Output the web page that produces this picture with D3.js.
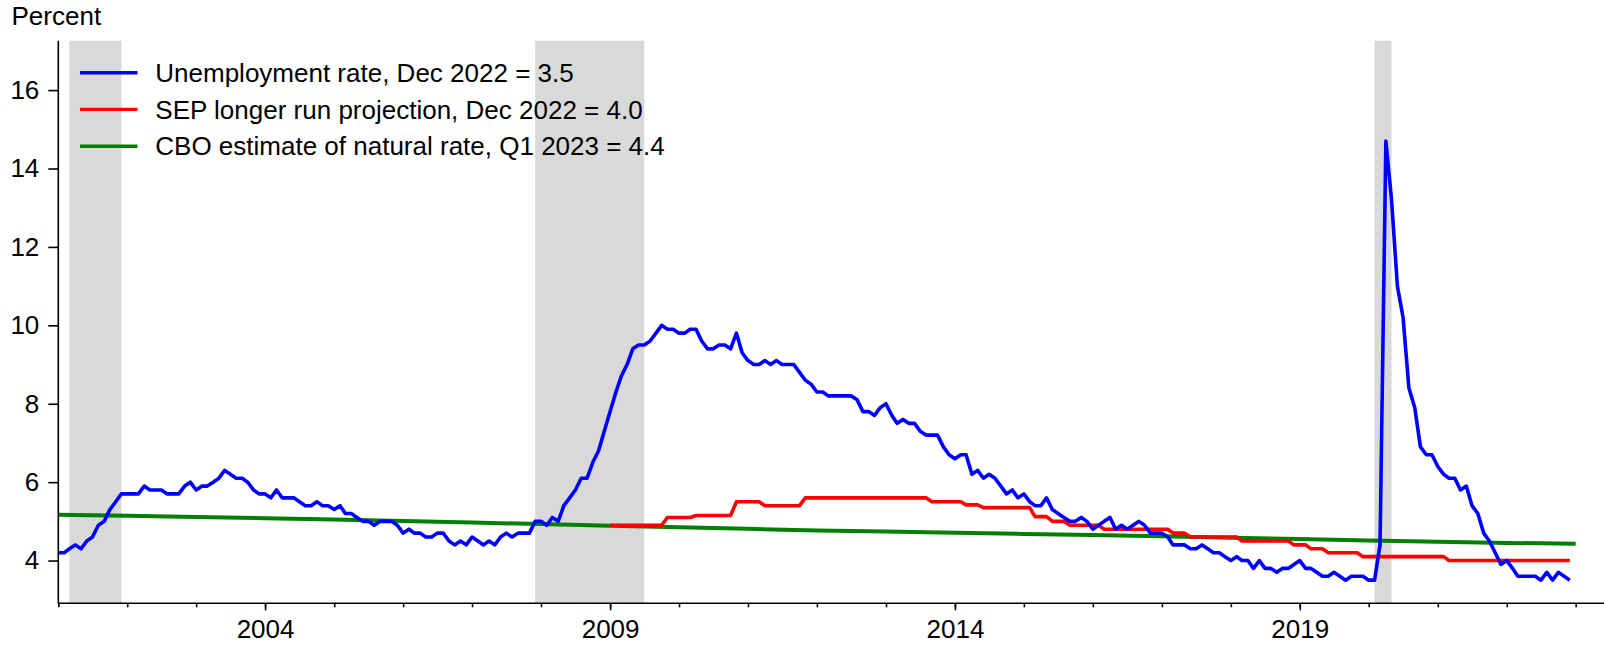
<!DOCTYPE html>
<html>
<head>
<meta charset="utf-8">
<script src="https://cdn.jsdelivr.net/npm/d3@7"></script>
<style>
  html, body { margin: 0; padding: 0; background: #fff; }
  svg { display: block; }
  text { font-family: "Liberation Sans", Arial, sans-serif; fill: #000; }
</style>
</head>
<body>
<svg id="chart" width="1604" height="646"></svg>
<script>
// ---------------- DATA ----------------
// Monthly unemployment rate, Jan 2001 – Dec 2022 (percent)
const unemploymentStart = [2001, 0];
const unemployment = [
  4.2, 4.2, 4.3, 4.4, 4.3, 4.5, 4.6, 4.9, 5.0, 5.3, 5.5, 5.7,
  5.7, 5.7, 5.7, 5.9, 5.8, 5.8, 5.8, 5.7, 5.7, 5.7, 5.9, 6.0,
  5.8, 5.9, 5.9, 6.0, 6.1, 6.3, 6.2, 6.1, 6.1, 6.0, 5.8, 5.7,
  5.7, 5.6, 5.8, 5.6, 5.6, 5.6, 5.5, 5.4, 5.4, 5.5, 5.4, 5.4,
  5.3, 5.4, 5.2, 5.2, 5.1, 5.0, 5.0, 4.9, 5.0, 5.0, 5.0, 4.9,
  4.7, 4.8, 4.7, 4.7, 4.6, 4.6, 4.7, 4.7, 4.5, 4.4, 4.5, 4.4,
  4.6, 4.5, 4.4, 4.5, 4.4, 4.6, 4.7, 4.6, 4.7, 4.7, 4.7, 5.0,
  5.0, 4.9, 5.1, 5.0, 5.4, 5.6, 5.8, 6.1, 6.1, 6.5, 6.8, 7.3,
  7.8, 8.3, 8.7, 9.0, 9.4, 9.5, 9.5, 9.6, 9.8, 10.0, 9.9, 9.9,
  9.8, 9.8, 9.9, 9.9, 9.6, 9.4, 9.4, 9.5, 9.5, 9.4, 9.8, 9.3,
  9.1, 9.0, 9.0, 9.1, 9.0, 9.1, 9.0, 9.0, 9.0, 8.8, 8.6, 8.5,
  8.3, 8.3, 8.2, 8.2, 8.2, 8.2, 8.2, 8.1, 7.8, 7.8, 7.7, 7.9,
  8.0, 7.7, 7.5, 7.6, 7.5, 7.5, 7.3, 7.2, 7.2, 7.2, 6.9, 6.7,
  6.6, 6.7, 6.7, 6.2, 6.3, 6.1, 6.2, 6.1, 5.9, 5.7, 5.8, 5.6,
  5.7, 5.5, 5.4, 5.4, 5.6, 5.3, 5.2, 5.1, 5.0, 5.0, 5.1, 5.0,
  4.8, 4.9, 5.0, 5.1, 4.8, 4.9, 4.8, 4.9, 5.0, 4.9, 4.7, 4.7,
  4.7, 4.6, 4.4, 4.4, 4.4, 4.3, 4.3, 4.4, 4.3, 4.2, 4.2, 4.1,
  4.0, 4.1, 4.0, 4.0, 3.8, 4.0, 3.8, 3.8, 3.7, 3.8, 3.8, 3.9,
  4.0, 3.8, 3.8, 3.7, 3.6, 3.6, 3.7, 3.6, 3.5, 3.6, 3.6, 3.6,
  3.5, 3.5, 4.4, 14.7, 13.2, 11.0, 10.2, 8.4, 7.9, 6.9, 6.7, 6.7,
  6.4, 6.2, 6.1, 6.1, 5.8, 5.9, 5.4, 5.2, 4.7, 4.5, 4.2, 3.9,
  4.0, 3.8, 3.6, 3.6, 3.6, 3.6, 3.5, 3.7, 3.5, 3.7, 3.6, 3.5
];

// SEP longer-run projection: release month and value (held until next release)
const sepReleases = [
  "2009-01", "2009-11", "2010-04", "2010-11", "2011-04", "2011-11",
  "2013-09", "2014-03", "2014-06", "2015-03", "2015-06", "2015-09",
  "2016-03", "2017-03", "2017-06", "2018-03", "2018-12", "2019-03",
  "2019-06", "2019-12", "2021-03"
];
const sepValues = [
  4.9, 5.1, 5.15, 5.5, 5.4, 5.6,
  5.5, 5.42, 5.35, 5.12, 5.0, 4.9,
  4.8, 4.7, 4.6, 4.5, 4.4, 4.3,
  4.2, 4.1, 4.0
];
const sepEnd = "2022-12";

// CBO estimate of the natural rate (Q1 of each year)
const cboYears = [2001, 2002, 2003, 2004, 2005, 2006, 2007, 2008, 2009, 2010, 2011, 2012,
                  2013, 2014, 2015, 2016, 2017, 2018, 2019, 2020, 2021, 2022, 2023];
const cboValues = [5.17, 5.14, 5.11, 5.08, 5.05, 5.01, 4.97, 4.93, 4.89, 4.85, 4.81, 4.77,
                   4.74, 4.71, 4.68, 4.65, 4.62, 4.58, 4.55, 4.51, 4.48, 4.45, 4.43];

// Recessions (start, end)
const recessions = [
  ["2001-03-01", "2001-12-01"],
  ["2007-12-01", "2009-07-01"],
  ["2020-02-01", "2020-05-01"]
];

const yTicks = [4, 6, 8, 10, 12, 14, 16];
const xLabelYears = [2004, 2009, 2014, 2019];
const xTickYears = d3.range(2001, 2024);

const legendItems = [
  { label: "Unemployment rate, Dec 2022 = 3.5", color: "#0000ff" },
  { label: "SEP longer run projection, Dec 2022 = 4.0", color: "#ff0000" },
  { label: "CBO estimate of natural rate, Q1 2023 = 4.4", color: "#008000" }
];

// ---------------- SCALES ----------------
const svg = d3.select("#chart");
const FONT = 26;
const mLeft = 58.3, mRight = 1604, mTop = 40.7, mBottom = 603.3;

const x = d3.scaleTime()
  .domain([new Date(2001, 0, 1), new Date(2023, 4, 31)])
  .range([mLeft, mRight]);
const y = d3.scaleLinear()
  .domain([2.91, 17.26])
  .range([mBottom, mTop]);

const parseMonth = d3.timeParse("%Y-%m");
const parseDay = d3.timeParse("%Y-%m-%d");

// ---------------- RECESSION BANDS ----------------
svg.append("g").selectAll("rect")
  .data(recessions)
  .join("rect")
  .attr("x", d => x(parseDay(d[0])))
  .attr("width", d => x(parseDay(d[1])) - x(parseDay(d[0])))
  .attr("y", mTop)
  .attr("height", mBottom - mTop)
  .attr("fill", "#d9d9d9");

// ---------------- SERIES ----------------
const unempData = unemployment.map((v, i) => ({ date: new Date(unemploymentStart[0], unemploymentStart[1] + i, 1), value: v }));

// SEP monthly, holding each release value until the next
const sepData = [];
{
  const endDate = parseMonth(sepEnd);
  let idx = 0;
  let d = parseMonth(sepReleases[0]);
  while (d <= endDate) {
    while (idx + 1 < sepReleases.length && parseMonth(sepReleases[idx + 1]) <= d) idx++;
    sepData.push({ date: new Date(d), value: sepValues[idx] });
    d = new Date(d.getFullYear(), d.getMonth() + 1, 1);
  }
}

const cboData = cboYears.map((yr, i) => ({ date: new Date(yr, 0, 1), value: cboValues[i] }));

const line = d3.line().x(d => x(d.date)).y(d => y(d.value));

svg.append("path").datum(cboData)
  .attr("d", line).attr("fill", "none")
  .attr("stroke", "#008000").attr("stroke-width", 4);

svg.append("path").datum(sepData)
  .attr("d", line).attr("fill", "none")
  .attr("stroke", "#ff0000").attr("stroke-width", 3.6).attr("stroke-linejoin", "round");

svg.append("path").datum(unempData)
  .attr("d", line).attr("fill", "none")
  .attr("stroke", "#0000ff").attr("stroke-width", 3.6).attr("stroke-linejoin", "round");

// ---------------- AXES ----------------
const yAxis = d3.axisLeft(y).tickValues(yTicks).tickSize(10).tickPadding(9).tickFormat(d3.format("d"));
const gy = svg.append("g").attr("transform", `translate(${mLeft},0)`).call(yAxis);
gy.select(".domain").attr("d", `M0,${mTop}V${mBottom}`).attr("stroke", "#000").attr("stroke-width", 1.6);
gy.selectAll(".tick line").attr("stroke", "#000").attr("stroke-width", 1.6);
gy.selectAll("text").style("font-size", FONT + "px").attr("fill", "#000");

// minor x ticks every year
const xMinor = d3.axisBottom(x).tickValues(xTickYears.map(yr => new Date(yr, 0, 1))).tickSize(4).tickFormat("");
const gxm = svg.append("g").attr("transform", `translate(0,${mBottom})`).call(xMinor);
gxm.select(".domain").attr("d", `M${mLeft},0H${mRight}`).attr("stroke", "#000").attr("stroke-width", 1.6);
gxm.selectAll(".tick line").attr("stroke", "#000").attr("stroke-width", 1.6);

// labelled x ticks
const xMajor = d3.axisBottom(x).tickValues(xLabelYears.map(yr => new Date(yr, 0, 1)))
  .tickSize(7).tickPadding(9.5).tickFormat(d3.timeFormat("%Y"));
const gx = svg.append("g").attr("transform", `translate(0,${mBottom})`).call(xMajor);
gx.select(".domain").remove();
gx.selectAll(".tick line").attr("stroke", "#000").attr("stroke-width", 1.6);
gx.selectAll("text").style("font-size", FONT + "px").attr("fill", "#000");

// y title
svg.append("text").attr("x", 11.5).attr("y", 25).style("font-size", FONT + "px").text("Percent");

// ---------------- LEGEND ----------------
const legendY = [72.7, 109.4, 146.2];
const lg = svg.append("g");
legendItems.forEach((item, i) => {
  lg.append("line").attr("x1", 80).attr("x2", 137.5)
    .attr("y1", legendY[i]).attr("y2", legendY[i])
    .attr("stroke", item.color).attr("stroke-width", 3.4);
  lg.append("text").attr("x", 155.3).attr("y", legendY[i] + 9.2)
    .style("font-size", FONT + "px").text(item.label);
});
</script>
</body>
</html>
